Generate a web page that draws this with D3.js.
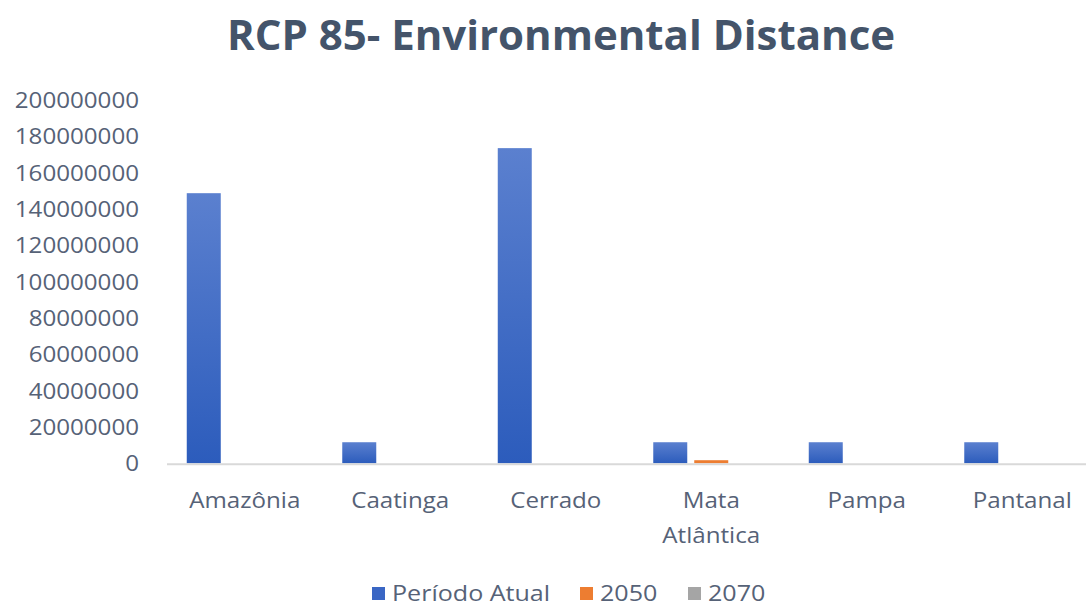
<!DOCTYPE html>
<html>
<head>
<meta charset="utf-8">
<script src="https://cdn.jsdelivr.net/npm/d3@7"></script>
<style>
  html, body { margin: 0; padding: 0; background: #fff; }
  svg { display: block; font-family: "Open Sans", "Noto Sans", sans-serif; }
</style>
</head>
<body>
<svg id="chart" width="1086" height="606"></svg>
<script>
// Biomes on the category axis
const categories = ["Amazônia", "Caatinga", "Cerrado", "Mata Atlântica", "Pampa", "Pantanal"];
// Series names
const seriesNames = ["Período Atual", "2050", "2070"];
// Environmental distance per biome and period
const periodoAtual = [148700000, 11600000, 173500000, 11600000, 11600000, 11600000];
const ano2050 = [0, 0, 0, 1700000, 0, 0];
const ano2070 = [0, 0, 0, 0, 0, 0];
// Value-axis ticks
const yTicks = [0, 20000000, 40000000, 60000000, 80000000, 100000000,
                120000000, 140000000, 160000000, 180000000, 200000000];

const seriesValues = [periodoAtual, ano2050, ano2070];
const seriesColors = ["#3a66c4", "#ed7d31", "#a5a5a5"];
const textColor = "#566277";
const stretch = 1.15;
const labelSize = 21;

const svg = d3.select("#chart");
const defs = svg.append("defs");
const grad = defs.append("linearGradient")
  .attr("id", "blueGrad").attr("x1", 0).attr("y1", 0).attr("x2", 0).attr("y2", 1);
grad.append("stop").attr("offset", "0%").attr("stop-color", "#5b80cf");
grad.append("stop").attr("offset", "100%").attr("stop-color", "#2c5cbc");

const plot = { left: 167, right: 1100, top: 100, bottom: 463.3 };

const x0 = d3.scaleBand().domain(categories).range([plot.left, plot.right]).padding(0);
const x1 = d3.scaleBand().domain(seriesNames).range([0, x0.bandwidth()])
  .paddingInner(0.1707).paddingOuter(0.482);
const y = d3.scaleLinear().domain([0, 200000000]).range([plot.bottom, plot.top]);

// Text with a slight horizontal widening around its anchor point
function sText(g, x, yy, str, opts) {
  const sx = opts.sx === undefined ? stretch : opts.sx;
  return g.append("text")
    .attr("transform", `translate(${x},${yy}) scale(${sx},1)`)
    .attr("text-anchor", opts.anchor || "middle")
    .attr("font-size", opts.size)
    .attr("font-weight", opts.weight || 400)
    .attr("fill", opts.fill || textColor)
    .text(str);
}

// Title
sText(svg, 561, 49.5, "RCP 85- Environmental Distance",
      { size: 42, weight: 700, fill: "#44546a", sx: 1 });

// Value axis labels
const yAxis = svg.append("g").attr("transform", `translate(${plot.left - 28},0)`)
  .call(d3.axisLeft(y).tickValues(yTicks).tickFormat(d3.format("d")).tickSize(0).tickPadding(0));
yAxis.select(".domain").remove();
yAxis.selectAll("text")
  .attr("font-size", labelSize).attr("fill", textColor)
  .attr("font-family", "\"Open Sans\", sans-serif")
  .attr("dy", "0.36em")
  .attr("x", 0)
  .attr("text-anchor", "end")
  .attr("transform", `scale(${stretch},1)`);

// Bars
const groups = svg.append("g").selectAll("g")
  .data(categories).join("g")
  .attr("transform", d => `translate(${x0(d)},0)`);

groups.selectAll("rect")
  .data((d, i) => seriesNames.map((s, k) => ({ s, k, v: seriesValues[k][i] })))
  .join("rect")
  .attr("x", d => x1(d.s))
  .attr("width", x1.bandwidth())
  .attr("y", d => y(d.v))
  .attr("height", d => plot.bottom - y(d.v))
  .attr("fill", d => d.k === 0 ? "url(#blueGrad)" : seriesColors[d.k]);

// Category axis line
svg.append("line")
  .attr("x1", plot.left).attr("x2", plot.right)
  .attr("y1", plot.bottom + 1).attr("y2", plot.bottom + 1)
  .attr("stroke", "#d9d9d9").attr("stroke-width", 2);

// Category labels (wrapped)
const catG = svg.append("g");
categories.forEach(c => {
  const cx = x0(c) + x0.bandwidth() / 2;
  const words = c === "Mata Atlântica" ? ["Mata", "Atlântica"] : [c];
  words.forEach((w, i) => sText(catG, cx, 508 + i * 34.5, w, { size: labelSize }));
});

// Legend
const legend = svg.append("g");
const legendItems = [
  { name: seriesNames[0], x: 372, color: "#3a66c4" },
  { name: seriesNames[1], x: 580, color: seriesColors[1] },
  { name: seriesNames[2], x: 688, color: seriesColors[2] }
];
legendItems.forEach(it => {
  legend.append("rect").attr("x", it.x).attr("y", 587).attr("width", 13).attr("height", 13)
    .attr("fill", it.color);
  sText(legend, it.x + 20, 601, it.name, { size: 21.8, anchor: "start" });
});
</script>
</body>
</html>
